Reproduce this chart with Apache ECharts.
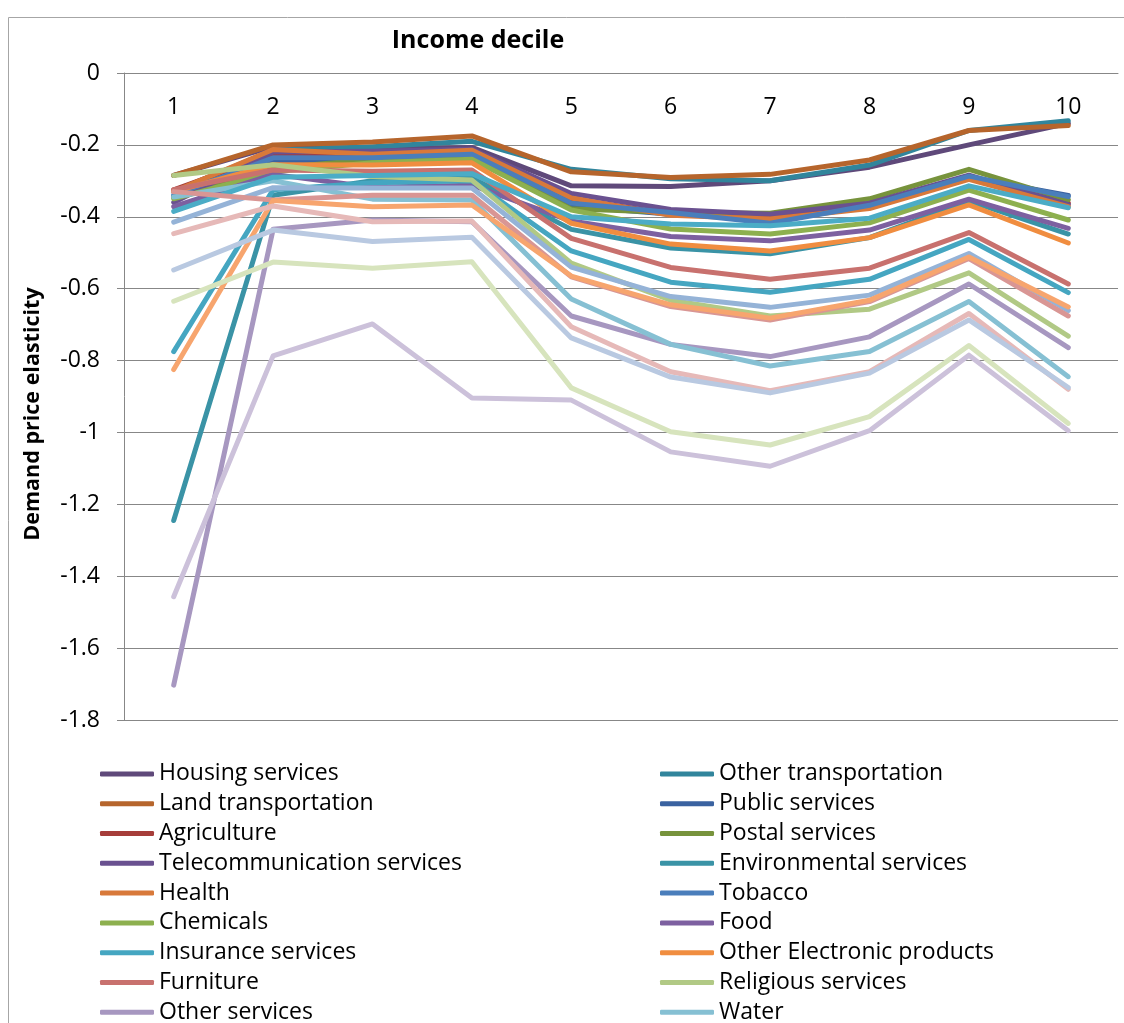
<!DOCTYPE html>
<html>
<head>
<meta charset="utf-8">
<script src="https://cdn.jsdelivr.net/npm/echarts@6/dist/echarts.min.js"></script>
<style>
  html, body { margin: 0; padding: 0; background: #fff; }
  #chart { width: 1124px; height: 1023px; }
</style>
</head>
<body>
<div id="chart"></div>
<script>
// Income deciles (x axis)
const deciles = ['1', '2', '3', '4', '5', '6', '7', '8', '9', '10'];

// Demand price elasticity by income decile
const housingServices      = [-0.285, -0.205, -0.212, -0.207, -0.314, -0.316, -0.300, -0.262, -0.200, -0.140];
const otherTransportation  = [-0.330, -0.215, -0.205, -0.190, -0.268, -0.294, -0.300, -0.256, -0.160, -0.133];
const landTransportation   = [-0.285, -0.200, -0.192, -0.175, -0.275, -0.291, -0.282, -0.242, -0.160, -0.146];
const publicServices       = [-0.345, -0.245, -0.245, -0.235, -0.370, -0.393, -0.402, -0.372, -0.290, -0.341];
const agriculture          = [-0.325, -0.225, -0.230, -0.222, -0.350, -0.392, -0.404, -0.372, -0.292, -0.362];
const postalServices       = [-0.345, -0.265, -0.240, -0.226, -0.378, -0.388, -0.390, -0.350, -0.268, -0.353];
const telecommunication    = [-0.360, -0.220, -0.218, -0.212, -0.335, -0.380, -0.393, -0.362, -0.284, -0.366];
const environmental        = [-1.245, -0.340, -0.300, -0.292, -0.435, -0.487, -0.503, -0.458, -0.356, -0.448];
const health               = [-0.330, -0.213, -0.226, -0.215, -0.348, -0.396, -0.406, -0.377, -0.296, -0.372];
const tobacco              = [-0.340, -0.236, -0.236, -0.226, -0.362, -0.388, -0.418, -0.368, -0.287, -0.344];
const chemicals            = [-0.350, -0.275, -0.250, -0.240, -0.381, -0.434, -0.448, -0.417, -0.326, -0.409];
const food                 = [-0.372, -0.282, -0.318, -0.312, -0.412, -0.455, -0.467, -0.437, -0.351, -0.432];
const insurance            = [-0.775, -0.325, -0.305, -0.300, -0.495, -0.582, -0.610, -0.574, -0.463, -0.611];
const otherElectronic      = [-0.330, -0.255, -0.256, -0.250, -0.418, -0.476, -0.495, -0.458, -0.367, -0.473];
const furniture            = [-0.325, -0.270, -0.273, -0.270, -0.460, -0.541, -0.574, -0.543, -0.444, -0.587];
const religious            = [-0.285, -0.255, -0.288, -0.298, -0.529, -0.632, -0.676, -0.657, -0.556, -0.732];
const otherServices        = [-1.703, -0.435, -0.409, -0.414, -0.676, -0.755, -0.789, -0.734, -0.587, -0.764];
const water                = [-0.345, -0.300, -0.351, -0.353, -0.629, -0.755, -0.815, -0.775, -0.636, -0.845];
// further sectors whose legend rows fall below the visible area
const sectorS19            = [-0.385, -0.290, -0.285, -0.280, -0.400, -0.420, -0.425, -0.404, -0.314, -0.375];
const sectorS20            = [-0.415, -0.319, -0.320, -0.320, -0.540, -0.622, -0.652, -0.618, -0.502, -0.661];
const sectorS21            = [-0.330, -0.353, -0.340, -0.340, -0.567, -0.650, -0.687, -0.636, -0.516, -0.676];
const sectorS22            = [-0.825, -0.355, -0.372, -0.367, -0.565, -0.645, -0.682, -0.632, -0.512, -0.651];
const sectorS23            = [-0.447, -0.370, -0.414, -0.412, -0.706, -0.831, -0.884, -0.831, -0.669, -0.880];
const sectorS24            = [-0.548, -0.437, -0.469, -0.457, -0.737, -0.846, -0.890, -0.835, -0.687, -0.875];
const sectorS25            = [-0.635, -0.526, -0.543, -0.525, -0.876, -0.998, -1.035, -0.956, -0.758, -0.975];
const sectorS26            = [-1.457, -0.787, -0.698, -0.904, -0.910, -1.054, -1.094, -0.995, -0.785, -0.995];

const seriesDefs = [
  ['Housing services', housingServices, '#5F497A', true],
  ['Other transportation', otherTransportation, '#31859C', true],
  ['Land transportation', landTransportation, '#B6652C', true],
  ['Public services', publicServices, '#3A62A0', true],
  ['Agriculture', agriculture, '#A63D3A', true],
  ['Postal services', postalServices, '#77933C', true],
  ['Telecommunication services', telecommunication, '#6A5190', true],
  ['Environmental services', environmental, '#3A93A6', true],
  ['Health', health, '#D8793A', true],
  ['Tobacco', tobacco, '#4A7EBB', true],
  ['Chemicals', chemicals, '#8DB04F', true],
  ['Food', food, '#7D60A0', true],
  ['Insurance services', insurance, '#45A6C1', true],
  ['Other Electronic products', otherElectronic, '#F08D40', true],
  ['Furniture', furniture, '#C8716E', true],
  ['Religious services', religious, '#B1C985', true],
  ['Other services', otherServices, '#A797C0', true],
  ['Water', water, '#86C0D3', true],
  ['Sector 19', sectorS19, '#4BACC6', false],
  ['Sector 20', sectorS20, '#95B3D7', false],
  ['Sector 21', sectorS21, '#D99694', false],
  ['Sector 22', sectorS22, '#F7A56E', false],
  ['Sector 23', sectorS23, '#E6B9B8', false],
  ['Sector 24', sectorS24, '#B9C9E1', false],
  ['Sector 25', sectorS25, '#D7E4BD', false],
  ['Sector 26', sectorS26, '#CCC1DA', false]
];

const legendNames = seriesDefs.filter(d => d[3]).map(d => d[0]);
const leftColumn = legendNames.filter((n, i) => i % 2 === 0);
const rightColumn = legendNames.filter((n, i) => i % 2 === 1);

const FONT = "'Open Sans', 'Noto Sans', sans-serif";
const GRID_COLOR = '#878787';

const legendBase = {
  orient: 'vertical',
  top: 759,
  height: 600,
  padding: 0,
  itemWidth: 54,
  itemHeight: 5,
  itemGap: 0,
  icon: 'roundRect',
  textStyle: { fontFamily: FONT, fontSize: 23, color: '#000', lineHeight: 29.8 },
  selectedMode: false
};

const chart = echarts.init(document.getElementById('chart'), null, { renderer: 'canvas' });
chart.setOption({
  animation: false,
  backgroundColor: '#fff',
  grid: { left: 124, top: 73, right: 6, bottom: 303, containLabel: false },
  legend: [
    Object.assign({}, legendBase, { left: 100, data: leftColumn }),
    Object.assign({}, legendBase, { left: 660, data: rightColumn })
  ],
  xAxis: {
    type: 'category',
    position: 'top',
    data: deciles,
    boundaryGap: true,
    axisLine: { lineStyle: { color: GRID_COLOR, width: 1 } },
    axisTick: { inside: true, length: 7, lineStyle: { color: GRID_COLOR } },
    axisLabel: { inside: true, margin: 23, fontFamily: FONT, fontSize: 23, color: '#000' }
  },
  yAxis: {
    type: 'value',
    min: -1.8,
    max: 0,
    interval: 0.2,
    axisLine: { show: true, lineStyle: { color: GRID_COLOR, width: 1 } },
    axisTick: { show: true, length: 7, lineStyle: { color: GRID_COLOR } },
    axisLabel: {
      margin: 24, fontFamily: FONT, fontSize: 23, color: '#000',
      formatter: v => String(Math.round(v * 10) / 10)
    },
    splitLine: { lineStyle: { color: GRID_COLOR, width: 1 } }
  },
  graphic: [
    {
      type: 'rect', silent: true, z: -1,
      shape: { x: 8.5, y: 17.5, width: 1300, height: 1300 },
      style: { fill: null, stroke: '#A6A6A6', lineWidth: 1 }
    },
    {
      type: 'text', silent: true,
      x: 478, y: 41,
      style: { text: 'Income decile', font: "bold 25px " + FONT, fill: '#000', align: 'center', verticalAlign: 'middle' }
    },
    {
      type: 'text', silent: true,
      x: 33, y: 414, rotation: Math.PI / 2,
      style: { text: 'Demand price elasticity', font: "bold 21.5px " + FONT, fill: '#000', align: 'center', verticalAlign: 'middle' }
    }
  ],
  series: seriesDefs.map(([name, values, color]) => ({
    name: name,
    type: 'line',
    data: values,
    symbol: 'none',
    showSymbol: false,
    color: color,
    lineStyle: { width: 5, color: color, cap: 'round', join: 'round' },
    emphasis: { disabled: true }
  }))
});
</script>
</body>
</html>
